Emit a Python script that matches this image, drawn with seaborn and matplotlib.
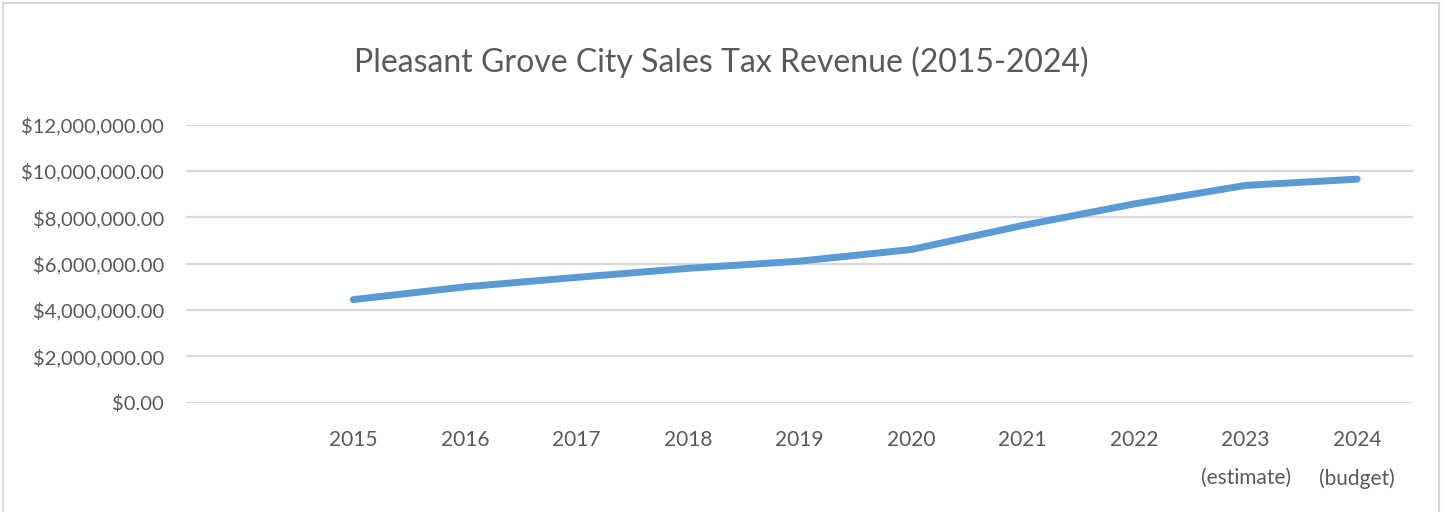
"""Pleasant Grove City sales tax revenue, 2015-2024."""

import matplotlib

matplotlib.use("Agg")
import matplotlib.pyplot as plt
import numpy as np
import pandas as pd
import seaborn as sns
from matplotlib.patches import Rectangle
from matplotlib.ticker import FuncFormatter, MultipleLocator

YEARS = ["2015", "2016", "2017", "2018", "2019", "2020", "2021", "2022",
         "2023\n(estimate)", "2024\n(budget)"]
REVENUE = [4450000, 5000000, 5410000, 5800000, 6110000, 6610000, 7650000,
           8580000, 9380000, 9650000]

TEXT = "#595959"
LINE = "#5b9bd5"
GRID = "#d9d9d9"

sns.set_theme(style="white")
plt.rcParams["font.family"] = ["Lato", "DejaVu Sans"]

df = pd.DataFrame({"year": YEARS, "revenue": REVENUE})

fig = plt.figure(figsize=(14.43, 5.12), dpi=100)
ax = fig.add_axes([0.1289, 0.2135, 0.8503, 0.5429])

sns.lineplot(data=df, x="year", y="revenue", ax=ax, color=LINE, linewidth=5,
             solid_capstyle="round", solid_joinstyle="round", sort=False)

# leave one empty category slot before 2015, like the original
ax.set_xlim(-1.5, len(YEARS) - 0.5)
ax.set_ylim(0, 12_000_000)
ax.yaxis.set_major_locator(MultipleLocator(2_000_000))
ax.yaxis.set_major_formatter(FuncFormatter(lambda v, _: f"${v:,.2f}"))
ax.grid(axis="y", color=GRID, linewidth=1.6)
ax.grid(axis="x", visible=False)
ax.set_axisbelow(True)
for s in ax.spines.values():
    s.set_visible(False)

ax.tick_params(axis="y", length=0, pad=16, labelsize=14.5, labelcolor=TEXT)
ax.tick_params(axis="x", length=0, pad=20, labelsize=15, labelcolor=TEXT)
for lbl in ax.get_xticklabels():
    lbl.set_verticalalignment("top")
    lbl.set_linespacing(2.1)
ax.set_xlabel("")
ax.set_ylabel("")

fig.text(0.5, 0.878, "Pleasant Grove City Sales Tax Revenue (2015-2024)",
         ha="center", va="center", fontsize=23, color=TEXT)

# chart frame
fig.patches.append(Rectangle((0.002, -0.01), 0.995, 1.004, transform=fig.transFigure,
                             fill=False, edgecolor=GRID, linewidth=1.5))

fig.savefig("out.png", dpi=100)
plt.close(fig)
print("Saved: out.png")
